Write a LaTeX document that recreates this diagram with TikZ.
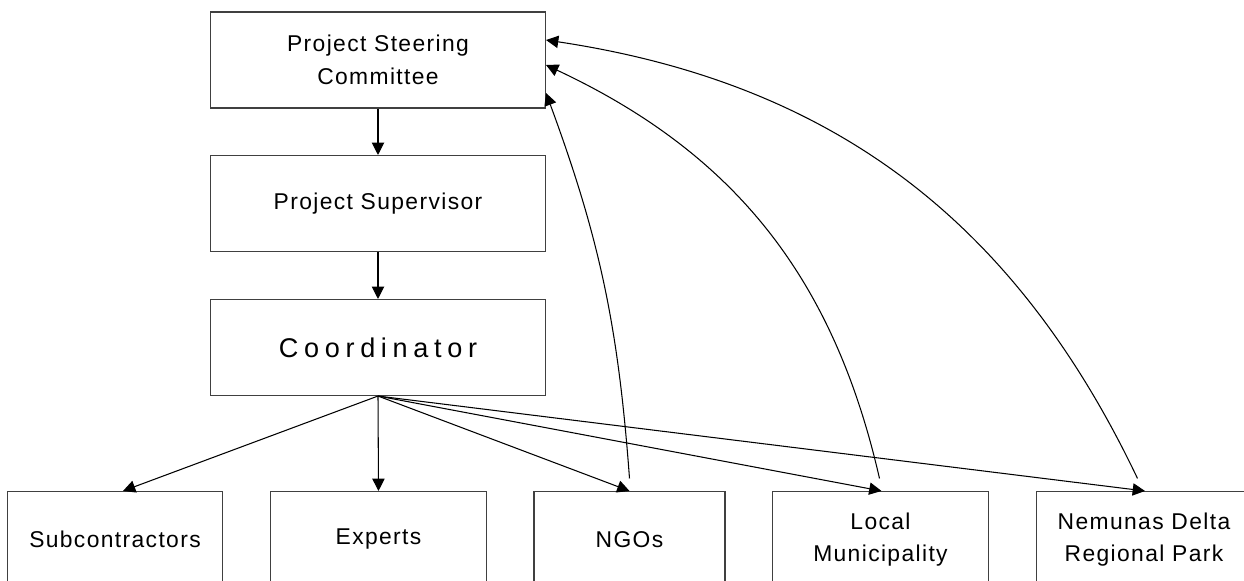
\documentclass[tikz,border=0pt]{standalone}
\usepackage{fontspec}
\setmainfont{Liberation Sans}
\newfontfamily\orgtext[LetterSpace=6]{Liberation Sans}
\newfontfamily\orgwide[LetterSpace=21]{Liberation Sans}
\usetikzlibrary{arrows.meta,positioning}

\tikzset{
  unit/.style={draw=black!75, line width=0.6pt, minimum width=6.7cm, minimum height=1.92cm,
    inner sep=0pt, align=center, font=\orgtext\fontsize{13}{19}\selectfont},
  party/.style={draw=black!75, line width=0.6pt, minimum width=4.31cm, minimum height=1.92cm,
    inner sep=0pt, align=center, font=\orgtext\fontsize{13}{18.4}\selectfont}
}

\begin{document}
\begin{tikzpicture}[
  >={Triangle[length=7pt,width=7pt]}, line width=0.6pt
]
\useasboundingbox (0,0) rectangle (24.88,-11.6);

% Nodes (management)
\node[unit] (psc) at (7.56,-1.2) {Project Steering\\Committee};
\node[unit] (sup) at (7.56,-4.07) {Project Supervisor};
\node[unit, font=\orgwide\fontsize{15.4}{18}\selectfont] (coord) at (7.56,-6.95) {Coordinator};

% Nodes (partners)
\node[party] (sub) at (2.3,-10.79) {Subcontractors};
\node[party] (exp) at (7.57,-10.79) {Experts};
\node[party, minimum width=3.82cm] (ngo) at (12.59,-10.79) {NGOs};
\node[party] (mun) at (17.61,-10.79) {Local\\Municipality};
\node[party] (park) at (22.88,-10.79) {Nemunas Delta\\Regional Park};

% Arrows (chain)
\draw[->] (psc) -- (sup);
\draw[->] (sup) -- (coord);

% Arrows (coordinator to partners)
\draw[->] (coord.south) -- ([xshift=0.16cm]sub.north);
\draw[->] (coord.south) -- (exp.north);
\draw[->] (coord.south) -- (ngo.north);
\draw[->] (coord.south) -- ([xshift=0.02cm]mun.north);
\draw[->] (coord.south) -- ([xshift=0.02cm]park.north);

% Arrows (reporting back)
\draw[->] ([yshift=0.25cm]ngo.north) to[bend right=8] ([yshift=-0.66cm]psc.east);
\draw[->] ([xshift=-0.02cm,yshift=0.25cm]mun.north) to[bend right=26] ([yshift=-0.1cm]psc.east);
\draw[->] ([xshift=-0.13cm,yshift=0.25cm]park.north) to[bend right=28] ([yshift=0.4cm]psc.east);

\end{tikzpicture}
\end{document}
